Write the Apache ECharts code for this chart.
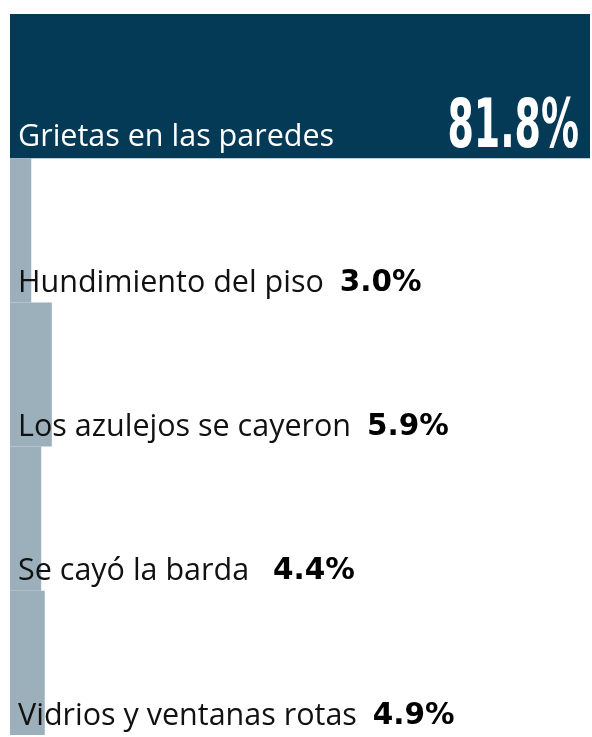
<!DOCTYPE html>
<html><head><meta charset="utf-8">
<script src="https://cdn.jsdelivr.net/npm/echarts@6/dist/echarts.min.js"></script>
<style>html,body{margin:0;padding:0;background:#fff}#c{width:592px;height:737px}</style>
</head><body><div id="c"></div>
<script>
const categories = ['Grietas en las paredes','Hundimiento del piso','Los azulejos se cayeron','Se cayó la barda','Vidrios y ventanas rotas'];
const values = [81.8, 3.0, 5.9, 4.4, 4.9];
const valueLabels = ['81.8%','3.0%','5.9%','4.4%','4.9%'];
const gaps = ['', '  ', '  ', '   ', '  '];

const NAVY = '#053a56', GRAY = '#9bb0bb';
const FS = 30.5;
const chart = echarts.init(document.getElementById('c'), null, {renderer:'canvas'});
chart.setOption({
  animation:false,
  grid:{left:10,right:2,top:14,bottom:2},
  xAxis:{type:'value',min:0,max:81.8,show:false},
  yAxis:{type:'category',data:categories,inverse:true,show:false},
  series:[
    {type:'bar',z:1,data:values.map((v,i)=>({value:v,itemStyle:{color:i===0?NAVY:GRAY}})),barCategoryGap:'0%',silent:true},
    {type:'custom',z:10,silent:true,data:values.map((v,i)=>[v,i]),
     renderItem:function(params,api){
       const i = api.value(1);
       const c0 = api.coord([0,i]);
       const h = api.size([0,1])[1];
       const bottom = c0[1]+h/2;
       const y = bottom - 19;
       const children = [];
       if(i===0){
         children.push({type:'text',x:c0[0]+8,y:y-2,style:{text:categories[i],fill:'#ffffff',font:FS+'px "Open Sans"',verticalAlign:'middle',align:'left'}});
         const ce = api.coord([api.value(0),i]);
         children.push({type:'text',x:ce[0]-11,y:bottom-29,scaleX:0.62,style:{text:valueLabels[i],fill:'#ffffff',font:'bold 68px "Liberation Sans Narrow","DejaVu Sans Condensed",sans-serif',verticalAlign:'middle',align:'right'}});
       } else {
         children.push({type:'text',x:c0[0]+8,y:y,style:{
           text:'{n|'+categories[i]+'}'+gaps[i]+'{v|'+valueLabels[i]+'}',
           font:FS+'px "Open Sans"',fill:'#111',verticalAlign:'middle',align:'left',
           rich:{n:{fontFamily:'Open Sans',fontSize:FS,fill:'#111'},v:{fontFamily:'DejaVu Sans',fontWeight:'bold',fontSize:29.5,fill:'#000'}}
         }});
       }
       return {type:'group',children:children};
     }}
  ]
});
</script></body></html>
